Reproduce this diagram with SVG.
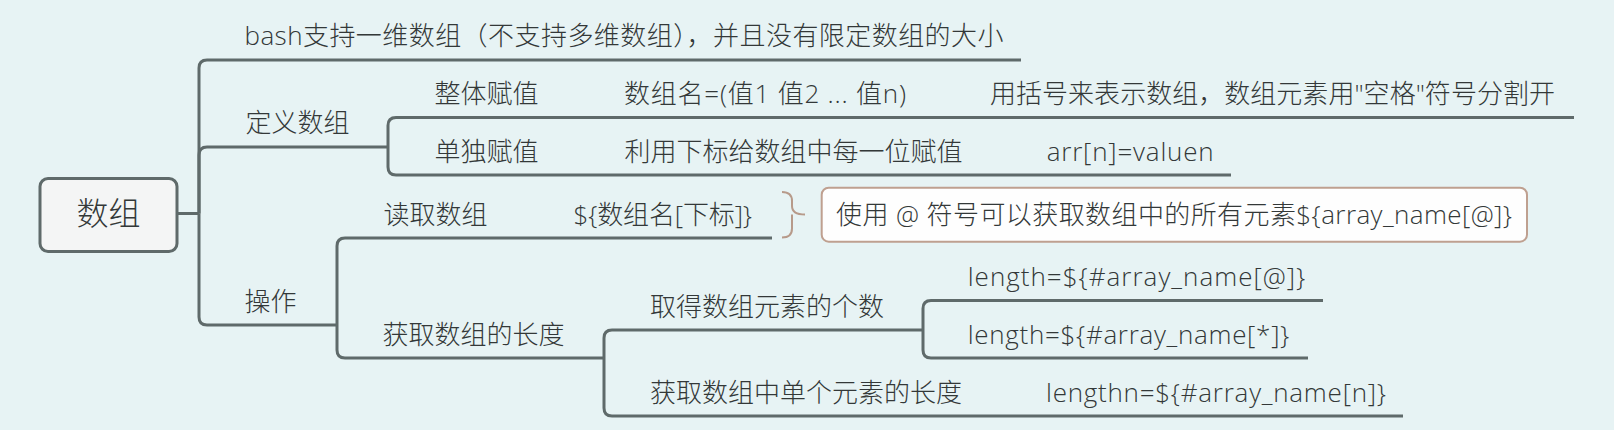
<svg xmlns="http://www.w3.org/2000/svg" width="1614" height="430" viewBox="0 0 1614 430">
  <style>
    .t { font-family: "Open Sans", "Noto Sans CJK SC", sans-serif; font-size: 26px; font-weight: 300; fill: #333838; }
    .root { font-family: "Open Sans", "Noto Sans CJK SC", sans-serif; font-size: 32px; font-weight: 300; fill: #333838; }
    .ln { fill: none; stroke: #5f6a6a; stroke-width: 3; stroke-linecap: butt; }
    .br { fill: none; stroke: #b79a8a; stroke-width: 2; }
  </style>
  <rect x="0" y="0" width="1614" height="430" fill="#e7f3f4"/>

  <g id="connectors">
    <path class="ln" d="M177,213.5 H199"/>
    <path class="ln" d="M199,213.5 V68 Q199,60 207,60 H1021"/>
    <path class="ln" d="M199,213.5 V155 Q199,147 207,147 H388"/>
    <path class="ln" d="M199,213.5 V317 Q199,325 207,325 H337"/>
    <path class="ln" d="M388,147 V125.5 Q388,117.5 396,117.5 H1574"/>
    <path class="ln" d="M388,147 V167 Q388,175 396,175 H1231"/>
    <path class="ln" d="M337,325 V246 Q337,238 345,238 H772"/>
    <path class="ln" d="M337,325 V350 Q337,358 345,358 H604"/>
    <path class="ln" d="M604,358 V338 Q604,330 612,330 H923"/>
    <path class="ln" d="M604,358 V408 Q604,416 612,416 H1403"/>
    <path class="ln" d="M923,330 V308.5 Q923,300.5 931,300.5 H1323"/>
    <path class="ln" d="M923,330 V350 Q923,358 931,358 H1308"/>
  </g>

  <g id="node-root">
    <rect x="40" y="178.5" width="137" height="73" rx="8" fill="#f4f5f5" stroke="#5f6a6a" stroke-width="3"/>
    <text class="root" x="108.5" y="225" text-anchor="middle">数组</text>
  </g>

  <g id="node-bash">
    <text class="t" x="244.5" y="45" textLength="759">bash支持一维数组（不支持多维数组），并且没有限定数组的大小</text>
  </g>
  <g id="node-define">
    <text class="t" x="245.5" y="132">定义数组</text>
  </g>
  <g id="node-whole">
    <text class="t" x="434.5" y="103">整体赋值</text>
  </g>
  <g id="node-whole-syntax">
    <text class="t" x="624" y="103" textLength="282">数组名=(值1 值2 ... 值n)</text>
  </g>
  <g id="node-whole-note">
    <text class="t" x="990" y="103" textLength="565">用括号来表示数组，数组元素用"空格"符号分割开</text>
  </g>
  <g id="node-single">
    <text class="t" x="434.5" y="160.5">单独赋值</text>
  </g>
  <g id="node-single-desc">
    <text class="t" x="624.5" y="160.5">利用下标给数组中每一位赋值</text>
  </g>
  <g id="node-single-syntax">
    <text class="t" x="1046.7" y="160.5" textLength="167">arr[n]=valuen</text>
  </g>
  <g id="node-ops">
    <text class="t" x="244.5" y="310.5">操作</text>
  </g>
  <g id="node-read">
    <text class="t" x="383.5" y="223.5">读取数组</text>
  </g>
  <g id="node-read-syntax">
    <text class="t" x="573.5" y="223.5" textLength="178.5">${数组名[下标]}</text>
  </g>
  <g id="node-read-note">
    <path class="br" d="M782,192 Q792,192 792,201 V206 Q792,214.5 805,214.5 M792,214.5 Q792,214.5 792,222 V228.5 Q792,237.5 782,237.5"/>
    <rect x="821.7" y="187.7" width="705.3" height="54" rx="7" fill="#fefefe" stroke="#bfa090" stroke-width="2"/>
    <text class="t" x="836" y="224" textLength="676">使用 @ 符号可以获取数组中的所有元素${array_name[@]}</text>
  </g>
  <g id="node-length">
    <text class="t" x="382.5" y="344">获取数组的长度</text>
  </g>
  <g id="node-count">
    <text class="t" x="650" y="315.5">取得数组元素的个数</text>
  </g>
  <g id="node-count-at">
    <text class="t" x="967.7" y="286" textLength="337.6">length=${#array_name[@]}</text>
  </g>
  <g id="node-count-star">
    <text class="t" x="967.7" y="343.5" textLength="321.6">length=${#array_name[*]}</text>
  </g>
  <g id="node-elem">
    <text class="t" x="650" y="401.5">获取数组中单个元素的长度</text>
  </g>
  <g id="node-elem-syntax">
    <text class="t" x="1046" y="402" textLength="340">lengthn=${#array_name[n]}</text>
  </g>
</svg>
